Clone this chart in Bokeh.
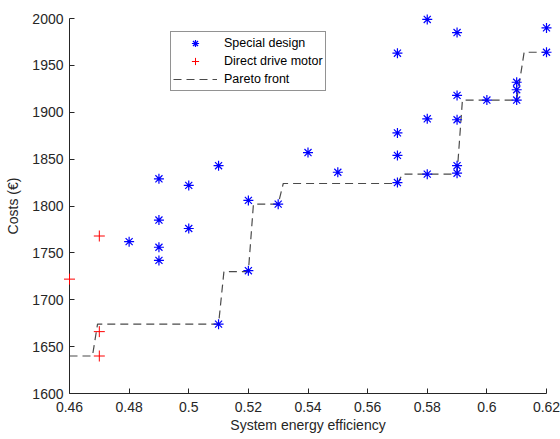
from bokeh.plotting import figure
from bokeh.models import Legend, LegendItem, FixedTicker
from bokeh.embed import file_html
from bokeh.resources import INLINE

# Special design points
special_x = [0.48, 0.49, 0.49, 0.49, 0.49, 0.50, 0.50, 0.51, 0.51, 0.52, 0.52, 0.53, 0.54, 0.55,
             0.57, 0.57, 0.57, 0.57, 0.58, 0.58, 0.58, 0.59, 0.59, 0.59, 0.59, 0.59, 0.60,
             0.61, 0.61, 0.61, 0.62, 0.62]
special_y = [1762, 1829, 1785, 1756, 1742, 1822, 1776, 1843, 1674, 1806, 1731, 1802, 1857, 1836,
             1963, 1878, 1854, 1825, 1999, 1893, 1834, 1985, 1918, 1892, 1843, 1835, 1913,
             1932, 1924, 1913, 1990, 1964]

# Direct drive motor points
direct_x = [0.46, 0.47, 0.47, 0.47]
direct_y = [1722, 1768, 1666, 1640]

# Pareto front vertices
pareto_x = [0.46, 0.4677, 0.4694, 0.51, 0.5118, 0.52, 0.5217, 0.53, 0.5317, 0.57, 0.5717,
            0.59, 0.5918, 0.61, 0.6125, 0.62]
pareto_y = [1640, 1640, 1674, 1674, 1730, 1730, 1802, 1802, 1824, 1824, 1834,
            1834, 1913, 1913, 1964, 1964]

x_ticks = [0.46, 0.48, 0.5, 0.52, 0.54, 0.56, 0.58, 0.6, 0.62]
x_tick_labels = ["0.46", "0.48", "0.5", "0.52", "0.54", "0.56", "0.58", "0.6", "0.62"]
y_ticks = [1600, 1650, 1700, 1750, 1800, 1850, 1900, 1950, 2000]

FONT = "Liberation Sans"
TXT = "#262626"

p = figure(width=560, height=439, output_backend="svg", toolbar_location=None,
           x_range=(0.46, 0.62), y_range=(1600, 2000),
           min_border_left=69, min_border_top=18, min_border_right=14, min_border_bottom=46)
p.outline_line_color = None
p.grid.visible = False
p.background_fill_color = "white"
p.border_fill_color = "white"

pl = p.line(pareto_x, pareto_y, line_color="#4a4a4a", line_width=1.2, line_dash="8 5")
sd = p.scatter(special_x, special_y, marker="asterisk", size=10, line_color="#0000ff",
               line_width=1.2, level="overlay")
dd = p.scatter(direct_x, direct_y, marker="cross", size=11, line_color="#ff0000",
               line_width=1, level="overlay")

for ax in (p.xaxis[0], p.yaxis[0]):
    ax.axis_line_color = TXT
    ax.major_tick_line_color = TXT
    ax.major_tick_in = 5
    ax.major_tick_out = 0
    ax.minor_tick_line_color = None
    ax.major_label_text_font = FONT
    ax.major_label_text_font_size = "14px"
    ax.major_label_text_color = TXT
    ax.axis_label_text_font = FONT
    ax.axis_label_text_font_size = "14px"
    ax.axis_label_text_font_style = "normal"
    ax.axis_label_text_color = TXT

p.xaxis.ticker = FixedTicker(ticks=x_ticks)
p.xaxis.major_label_overrides = {t: l for t, l in zip(x_ticks, x_tick_labels)}
p.yaxis.ticker = FixedTicker(ticks=y_ticks)
p.xaxis.axis_label = "System energy efficiency"
p.yaxis.axis_label = "Costs (€)"
p.xaxis.major_label_standoff = 8
p.yaxis.major_label_standoff = 6
p.xaxis.axis_label_standoff = 2
p.yaxis.axis_label_standoff = 8

legend = Legend(items=[
    LegendItem(label="Special design", renderers=[sd]),
    LegendItem(label="Direct drive motor", renderers=[dd]),
    LegendItem(label="Pareto front", renderers=[pl]),
], location=(101, 302))
legend.label_text_font = FONT
legend.label_text_font_size = "12.5px"
legend.label_text_color = "#000000"
legend.border_line_color = "#262626"
legend.border_line_width = 1
legend.background_fill_alpha = 1
legend.glyph_width = 44
legend.glyph_height = 18
legend.label_height = 18
legend.label_standoff = 7
legend.spacing = 0
legend.padding = 2
legend.margin = 0
p.add_layout(legend)

open("out.html", "w").write(file_html(p, INLINE))
